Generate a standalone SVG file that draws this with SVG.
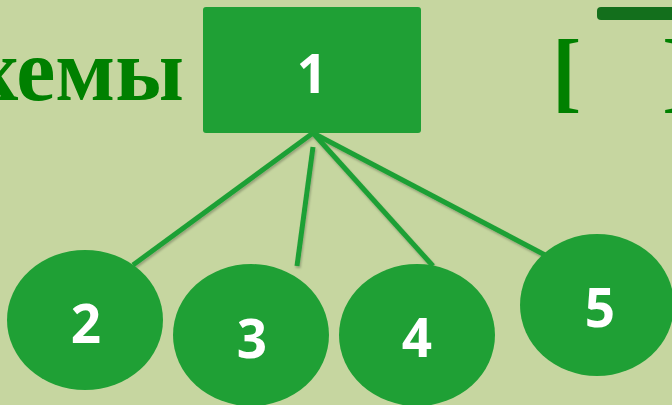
<svg xmlns="http://www.w3.org/2000/svg" width="672" height="405" viewBox="0 0 672 405">
<style>
.bg{fill:#c6d6a0}
.node{fill:#1fa035}
.lbl{font-family:"Open Sans","Liberation Sans",sans-serif;font-weight:bold;fill:#ffffff;text-anchor:middle}
.title{font-family:"Liberation Serif","DejaVu Serif",serif;font-weight:bold;fill:#008000}
.conn{stroke:#1fa035;stroke-width:5;fill:none;stroke-linecap:butt}
</style>
<defs>
<filter id="sh" x="-20%" y="-20%" width="140%" height="140%">
<feDropShadow dx="1" dy="2" stdDeviation="1.2" flood-color="#000" flood-opacity="0.25"/>
</filter>
</defs>
<rect class="bg" x="0" y="0" width="672" height="405"/>
<text class="title" x="184" y="100" font-size="88" text-anchor="end">хемы</text>
<text class="title" x="552" y="101" font-size="88">[</text>
<text class="title" x="662" y="101" font-size="88">]</text>
<rect x="597" y="7" width="80" height="13" rx="4" fill="#136f1c"/>
<g id="connectors" filter="url(#sh)">
<line class="conn" x1="313" y1="133" x2="133" y2="265"/>
<line class="conn" x1="313" y1="147" x2="297" y2="266"/>
<line class="conn" x1="313" y1="133" x2="433" y2="266"/>
<line class="conn" x1="313" y1="133" x2="545" y2="255"/>
</g>
<g id="n1">
<rect class="node" x="203" y="7" width="218" height="126" rx="3"/>
<text class="lbl" x="312" y="93" font-size="53">1</text>
</g>
<g id="n2">
<ellipse class="node" cx="85" cy="320" rx="78" ry="70"/>
<text class="lbl" x="86" y="343" font-size="53">2</text>
</g>
<g id="n3">
<ellipse class="node" cx="251" cy="335" rx="78" ry="71"/>
<text class="lbl" x="252" y="358" font-size="53">3</text>
</g>
<g id="n4">
<ellipse class="node" cx="417" cy="335" rx="78" ry="71"/>
<text class="lbl" x="417" y="357" font-size="53">4</text>
</g>
<g id="n5">
<ellipse class="node" cx="597" cy="305" rx="77" ry="71"/>
<text class="lbl" x="600" y="327" font-size="53">5</text>
</g>
</svg>
